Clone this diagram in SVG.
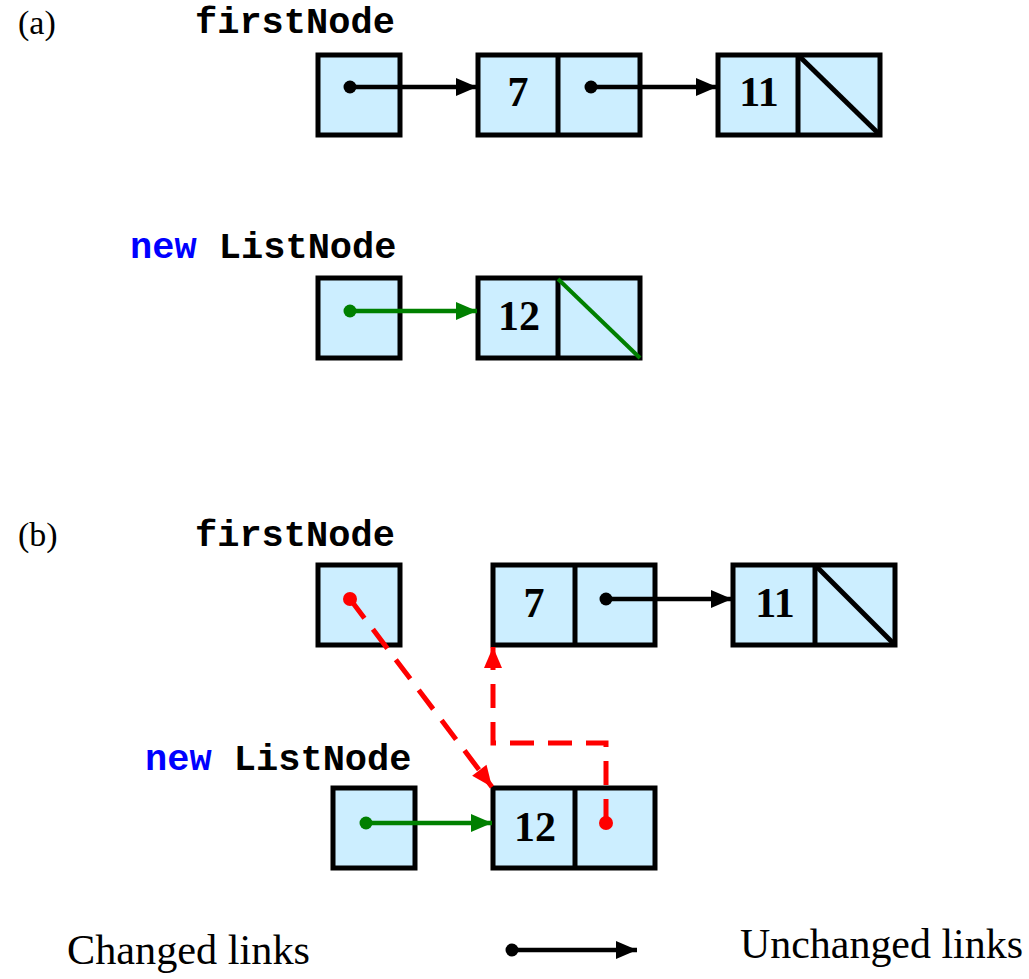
<svg xmlns="http://www.w3.org/2000/svg" width="1029" height="979" viewBox="0 0 1029 979">
  <defs>
    <marker id="ah-black" markerWidth="10" markerHeight="10" refX="9" refY="5" orient="auto" markerUnits="userSpaceOnUse" viewBox="0 0 10 10" overflow="visible">
      <path d="M-12,-4 L9,5 L-12,14 Z" fill="#000"/>
    </marker>
    <marker id="ah-green" markerWidth="10" markerHeight="10" refX="9" refY="5" orient="auto" markerUnits="userSpaceOnUse" viewBox="0 0 10 10" overflow="visible">
      <path d="M-12,-4 L9,5 L-12,14 Z" fill="#008000"/>
    </marker>
    <marker id="ah-red" markerWidth="10" markerHeight="10" refX="9" refY="5" orient="auto" markerUnits="userSpaceOnUse" viewBox="0 0 10 10" overflow="visible">
      <path d="M-12,-4 L9,5 L-12,14 Z" fill="#ff0000"/>
    </marker>
  </defs>
  <style>
    .cell { fill: #cceeff; stroke: #000; stroke-width: 5; }
    .div { stroke: #000; stroke-width: 5; }
    .num { font-family: "Liberation Serif", serif; font-weight: bold; font-size: 42px; text-anchor: middle; }
    .code { font-family: "Liberation Mono", monospace; font-weight: bold; font-size: 37px; }
    .kw { fill: #0000ff; }
    .tag { font-family: "Liberation Serif", serif; font-size: 34px; }
    .legend { font-family: "Liberation Serif", serif; font-size: 42px; }
    .blk { stroke: #000; stroke-width: 4.5; fill: none; }
    .grn { stroke: #008000; stroke-width: 4.5; fill: none; }
    .red { stroke: #ff0000; stroke-width: 5; fill: none; stroke-dasharray: 24 14; }
  </style>

  <rect width="1029" height="979" fill="#fff"/>

  <!-- (a) before linking -->
  <text class="tag" x="18" y="34">(a)</text>
  <text class="code" x="195" y="33">firstNode</text>
  <text class="code" x="130" y="258"><tspan class="kw">new</tspan> ListNode</text>

  <g id="a-first">
    <rect class="cell" x="318" y="55" width="82" height="80"/>
  </g>
  <g id="a-node7">
    <rect class="cell" x="478" y="55" width="162" height="80"/>
    <line class="div" x1="558" y1="55" x2="558" y2="135"/>
    <text class="num" x="518" y="106">7</text>
  </g>
  <g id="a-node11">
    <rect class="cell" x="718" y="55" width="162" height="80"/>
    <line class="div" x1="798" y1="55" x2="798" y2="135"/>
    <line class="div" x1="798" y1="55" x2="880" y2="135" stroke-width="4"/>
    <text class="num" x="759" y="106">11</text>
  </g>
  <g id="a-new">
    <rect class="cell" x="318" y="278" width="82" height="80"/>
  </g>
  <g id="a-node12">
    <rect class="cell" x="478" y="278" width="162" height="80"/>
    <line class="div" x1="558" y1="278" x2="558" y2="358"/>
    <line x1="558" y1="279" x2="640" y2="358" stroke="#008000" stroke-width="4"/>
    <text class="num" x="519" y="330">12</text>
  </g>

  <!-- (b) after linking -->
  <text class="tag" x="18" y="546">(b)</text>
  <text class="code" x="195" y="546">firstNode</text>
  <text class="code" x="145" y="770"><tspan class="kw">new</tspan> ListNode</text>

  <g id="b-first">
    <rect class="cell" x="318" y="565" width="82" height="80"/>
  </g>
  <g id="b-node7">
    <rect class="cell" x="493" y="565" width="162" height="80"/>
    <line class="div" x1="575" y1="565" x2="575" y2="645"/>
    <text class="num" x="534" y="617">7</text>
  </g>
  <g id="b-node11">
    <rect class="cell" x="733" y="565" width="162" height="80"/>
    <line class="div" x1="815" y1="565" x2="815" y2="645"/>
    <line class="div" x1="815" y1="565" x2="895" y2="645" stroke-width="4"/>
    <text class="num" x="775" y="617">11</text>
  </g>
  <g id="b-new">
    <rect class="cell" x="333" y="788" width="82" height="80"/>
  </g>
  <g id="b-node12">
    <rect class="cell" x="493" y="788" width="162" height="80"/>
    <line class="div" x1="575" y1="788" x2="575" y2="868"/>
    <text class="num" x="535" y="841">12</text>
  </g>

  <!-- legend -->
  <text class="legend" x="67" y="964" textLength="243" lengthAdjust="spacingAndGlyphs">Changed links</text>
  <text class="legend" x="740" y="958" textLength="283" lengthAdjust="spacingAndGlyphs">Unchanged links</text>

  <g id="connectors">
    <!-- (a) -->
    <circle cx="350" cy="87" r="6.5" fill="#000"/>
    <line class="blk" x1="350" y1="87" x2="477" y2="87" marker-end="url(#ah-black)"/>
    <circle cx="591" cy="87" r="6.5" fill="#000"/>
    <line class="blk" x1="591" y1="87" x2="717" y2="87" marker-end="url(#ah-black)"/>
    <circle cx="350" cy="311" r="6.5" fill="#008000"/>
    <line class="grn" x1="350" y1="311" x2="477" y2="311" marker-end="url(#ah-green)"/>

    <!-- (b) -->
    <circle cx="606" cy="599" r="6.5" fill="#000"/>
    <line class="blk" x1="606" y1="599" x2="732" y2="599" marker-end="url(#ah-black)"/>
    <circle cx="366" cy="823" r="6.5" fill="#008000"/>
    <line class="grn" x1="366" y1="823" x2="492" y2="823" marker-end="url(#ah-green)"/>

    <circle cx="350" cy="599" r="7" fill="#ff0000"/>
    <path class="red" d="M350,599 L492,787" marker-end="url(#ah-red)"/>
    <circle cx="606" cy="823" r="7" fill="#ff0000"/>
    <path class="red" d="M606,823 L606,743 L493,743 L493,647" marker-end="url(#ah-red)"/>

    <!-- legend arrow -->
    <circle cx="512" cy="950" r="6.5" fill="#000"/>
    <line class="blk" x1="512" y1="950" x2="637" y2="950" marker-end="url(#ah-black)"/>
  </g>
</svg>
